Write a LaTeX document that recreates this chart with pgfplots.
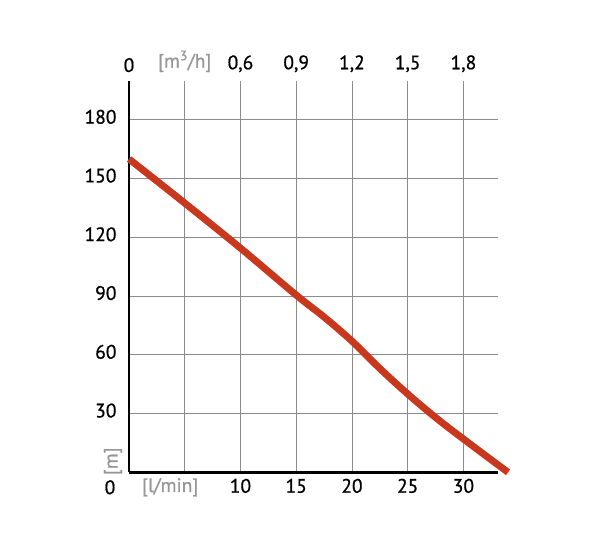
\documentclass[border=0pt]{standalone}
\usepackage{pgfplots}
\pgfplotsset{compat=1.18}
\usepackage{fontspec}
\setmainfont{PT Sans}
\newfontfamily\lbl{PT Sans}[FakeBold=0.8]
\definecolor{curve}{RGB}{200,56,30}
\definecolor{gridc}{RGB}{140,140,140}
\definecolor{unitc}{RGB}{150,150,150}
\begin{document}
\begin{tikzpicture}
\begin{axis}[
  name=ax,
  scale only axis,
  width=369pt, height=391.6pt,
  xmin=0, xmax=33.1, ymin=0, ymax=200,
  axis x line*=bottom, axis y line*=left,
  axis line style={line width=2.5pt, -},
  xtick={5,10,15,20,25,30},
  xticklabels={{},10,15,20,25,30},
  ytick={30,60,90,120,150,180},
  major tick length=0pt,
  grid=major,
  major grid style={draw=gridc, line width=0.8pt},
  tick label style={font=\fontsize{19.5}{22}\lbl},
  /pgf/number format/assume math mode=true,
  xticklabel style={yshift=-3pt},
  yticklabel style={xshift=-9pt, yshift=3pt},
  clip=false,
]
\addplot[curve, line width=7pt, smooth, tension=0.55] coordinates {
  (0,160) (5,137.5) (10,114.5) (15,90.5) (17.5,79.3) (20,67) (22.5,53) (25,40) (27.5,28) (30,17) (34,0)
};
\node[font=\fontsize{19.5}{22}\lbl, text=unitc] at (axis cs:3.7,0) [yshift=-15pt] {[l/min]};
\node[font=\fontsize{19.5}{22}\lbl] at (axis cs:0,0) [xshift=-19pt, yshift=-15pt] {0};
\node[font=\fontsize{19.5}{22}\lbl, text=unitc, rotate=90] at (axis cs:0,0) [xshift=11pt, yshift=16pt] {[m]};
\end{axis}
\begin{axis}[
  scale only axis,
  width=369pt, height=391.6pt,
  xmin=0, xmax=33.1, ymin=0, ymax=200,
  hide y axis,
  axis x line*=top,
  axis line style={draw=none},
  xtick={0,5,10,15,20,25,30},
  xticklabels={0,{\textcolor{unitc}{[m\textsuperscript{3}/h]}},{0,6},{0,9},{1,2},{1,5},{1,8}},
  major tick length=0pt,
  tick label style={font=\fontsize{19.5}{22}\lbl},
  xticklabel style={yshift=5pt},
  /pgf/number format/assume math mode=true,
]
\addplot[draw=none] coordinates {(0,0)};
\end{axis}
\path (ax.south west) ++(-129pt,-77.7pt);
\path (ax.north east) ++(102pt,80.7pt);
\end{tikzpicture}
\end{document}
